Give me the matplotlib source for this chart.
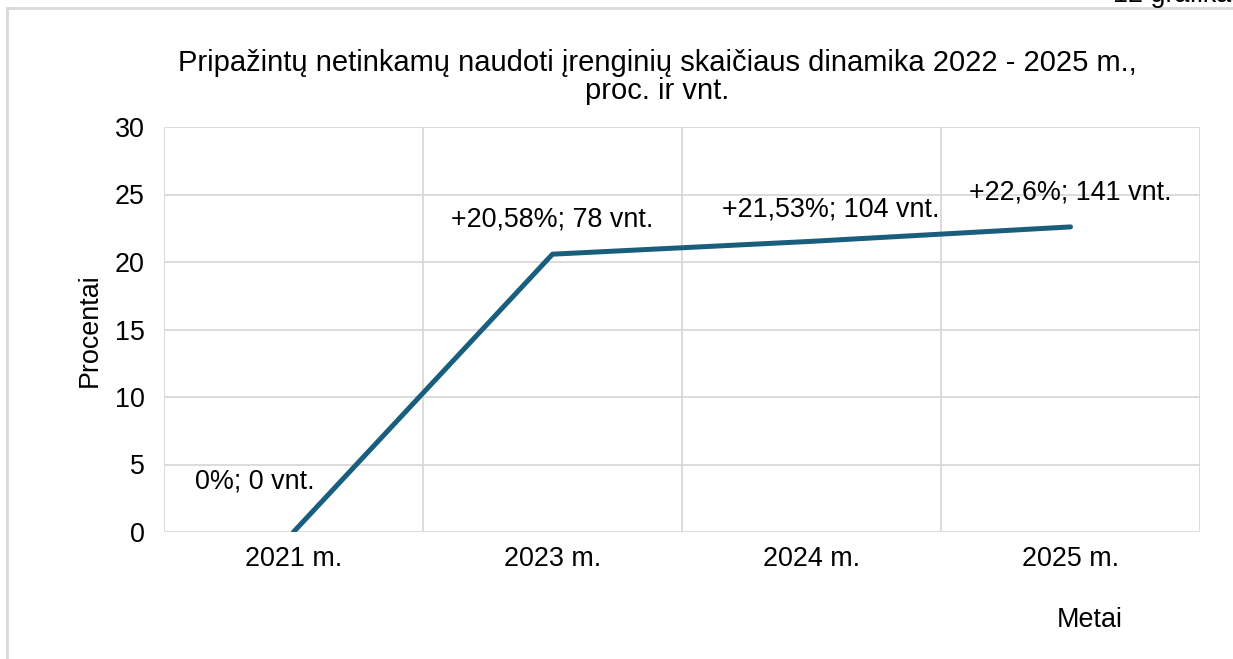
import matplotlib.pyplot as plt
from matplotlib.lines import Line2D

plt.rcParams['font.family'] = ['Liberation Sans', 'DejaVu Sans']

# ---------------- DUOMENYS ----------------
metai = ["2021 m.", "2023 m.", "2024 m.", "2025 m."]
procentai = [0, 20.58, 21.53, 22.6]
etiketes = ["0%; 0 vnt.", "+20,58%; 78 vnt.", "+21,53%; 104 vnt.", "+22,6%; 141 vnt."]
y_ticks = [0, 5, 10, 15, 20, 25, 30]

# etikečių poslinkis pikseliais nuo taško
poslinkiai = [(-39, 51), (0, 35), (19, 32), (0, 34)]

LINIJA = "#1a5e7e"
TINKLELIS = "#d9d9d9"
FS = 19.4

fig = plt.figure(figsize=(12.33, 6.59), dpi=100)
ax = fig.add_axes([164 / 1233, 1 - 532 / 659, (1200 - 164) / 1233, (532 - 127) / 659])

x = list(range(len(metai)))
ax.plot(x, procentai, color=LINIJA, linewidth=3.6, solid_capstyle='round', zorder=3)

for xi, yi, txt, (dx, dy) in zip(x, procentai, etiketes, poslinkiai):
    ax.annotate(txt, (xi, yi), xytext=(dx, dy), textcoords='offset pixels',
                ha='center', va='center', fontsize=FS, color='black')

ax.set_xlim(-0.5, len(metai) - 0.5)
ax.set_ylim(0, 30)
ax.set_yticks(y_ticks)
ax.set_xticks(x)
ax.set_xticklabels(metai)
ax.set_xticks([i - 0.5 for i in range(len(metai) + 1)], minor=True)

ax.grid(True, which='major', axis='y', color=TINKLELIS, linewidth=1.3)
ax.grid(True, which='minor', axis='x', color=TINKLELIS, linewidth=1.3)
ax.set_axisbelow(True)
for s in ax.spines.values():
    s.set_visible(False)
ax.tick_params(which='both', length=0, labelsize=FS)
ax.tick_params(axis='y', pad=14)
ax.tick_params(axis='x', pad=10)

fig.text(90 / 1233, 1 - 330 / 659, "Procentai", fontsize=FS, ha='center', va='center',
         rotation=90)
fig.text(1090 / 1233, 1 - 620 / 659, "Metai", fontsize=FS, ha='center', va='center')

fig.text(657 / 1233, 1 - 77 / 659,
         "Pripažintų netinkamų naudoti įrenginių skaičiaus dinamika 2022 - 2025 m.,\nproc. ir vnt.",
         fontsize=21, ha='center', va='center', linespacing=1.0)

# rėmelis ir nukirptas užrašas viršuje
fig.add_artist(Line2D([7 / 1233, 7 / 1233], [0, 1 - 8 / 659], transform=fig.transFigure,
                      color=TINKLELIS, linewidth=2))
fig.add_artist(Line2D([7 / 1233, 1], [1 - 8 / 659, 1 - 8 / 659], transform=fig.transFigure,
                      color=TINKLELIS, linewidth=2))
fig.text(1113 / 1233, 1 - 2 / 659, "12 grafikas", fontsize=FS, ha='left', va='baseline')

fig.savefig("out.png", dpi=100)
